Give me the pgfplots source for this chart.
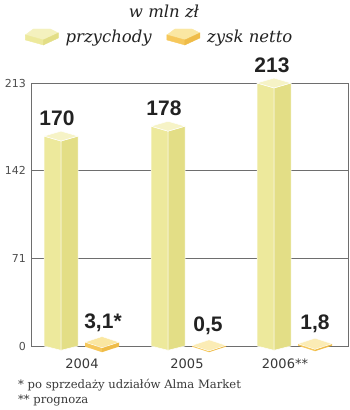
\documentclass[border=0pt]{standalone}
\usepackage{pgfplots}
\pgfplotsset{compat=1.18}
\usepackage{fontspec}
\setmainfont{DejaVu Serif}
\newfontfamily\numfont{Liberation Sans}
\newfontfamily\tickfont{DejaVu Sans}
\definecolor{barL}{HTML}{EDE99C}
\definecolor{barR}{HTML}{E3DE86}
\definecolor{barT}{HTML}{F6F3C6}
\definecolor{boxT}{HTML}{FAE7A2}
\definecolor{boxL}{HTML}{F6C85C}
\definecolor{boxR}{HTML}{EFBC48}
\definecolor{gridc}{HTML}{6E6E6E}
\definecolor{txt}{HTML}{222222}
\begin{document}
\begin{tikzpicture}[x=1pt,y=1pt]
\useasboundingbox (0,0) rectangle (350,410);
\begin{axis}[
  at={(31pt,64pt)}, anchor=south west,
  scale only axis, width=317pt, height=263pt,
  xmin=0, xmax=317, ymin=0, ymax=213,
  clip=false,
  axis line style={draw=gridc, line width=0.8pt},
  ymajorgrids, grid style={draw=gridc, line width=0.8pt},
  major tick length=0pt,
  ytick={0,71,142,213},
  xtick={51,156,254},
  xticklabels={2004,2005,2006**},
  /pgf/number format/assume math mode=true,
  yticklabel style={font=\tickfont\fontsize{11}{12}\selectfont, text=txt!80, anchor=east, inner sep=0pt, xshift=-5pt},
  xticklabel style={font=\tickfont\fontsize{13}{14}\selectfont, text=txt!90, anchor=base, inner sep=0pt, yshift=-22pt},
  legend style={at={(-0.019,1.207)}, anchor=north west, draw=none, fill=none, inner sep=0pt,
    font=\fontsize{16.5}{18}\selectfont\itshape, text=txt,
    nodes={inner sep=0pt}, cells={anchor=west},
    /tikz/every odd column/.append style={column sep=7pt},
    /tikz/every even column/.append style={column sep=15pt}},
  legend columns=2,
]
% legend images
\addlegendimage{legend image code/.code={
  \fill[barT!80!barL] (0pt,2pt) -- (8pt,8pt) -- (25pt,8pt) -- (33pt,4pt) -- (18pt,-3pt) -- cycle;
  \fill[barL] (0pt,2pt) -- (18pt,-3pt) -- (18pt,-8pt) -- (0pt,-3pt) -- cycle;
  \fill[barR] (18pt,-3pt) -- (33pt,4pt) -- (33pt,-1pt) -- (18pt,-8pt) -- cycle;
}}
\addlegendentry{przychody}
\addlegendimage{legend image code/.code={
  \fill[boxT] (0pt,2pt) -- (8pt,8pt) -- (25pt,8pt) -- (33pt,4pt) -- (18pt,-3pt) -- cycle;
  \fill[boxL] (0pt,2pt) -- (18pt,-3pt) -- (18pt,-8pt) -- (0pt,-3pt) -- cycle;
  \fill[boxR] (18pt,-3pt) -- (33pt,4pt) -- (33pt,-1pt) -- (18pt,-8pt) -- cycle;
}}
\addlegendentry{zysk netto}
% przychody 2004: 170
\addplot[fill=barL, draw=white, line width=0.5pt, forget plot] coordinates {(13,0) (30,-3.5) (30,166) (13,170)} -- cycle;
\addplot[fill=barR, draw=white, line width=0.5pt, forget plot] coordinates {(30,-3.5) (47,0) (47,170) (30,166)} -- cycle;
\addplot[fill=barT, draw=white, line width=0.5pt, forget plot] coordinates {(13,170) (30,174) (47,170) (30,166)} -- cycle;
% przychody 2005: 178
\addplot[fill=barL, draw=white, line width=0.5pt, forget plot] coordinates {(120,0) (137,-3.5) (137,174) (120,178)} -- cycle;
\addplot[fill=barR, draw=white, line width=0.5pt, forget plot] coordinates {(137,-3.5) (154,0) (154,178) (137,174)} -- cycle;
\addplot[fill=barT, draw=white, line width=0.5pt, forget plot] coordinates {(120,178) (137,182) (154,178) (137,174)} -- cycle;
% przychody 2006: 213
\addplot[fill=barL, draw=white, line width=0.5pt, forget plot] coordinates {(226,0) (243,-3.5) (243,209) (226,213)} -- cycle;
\addplot[fill=barR, draw=white, line width=0.5pt, forget plot] coordinates {(243,-3.5) (260,0) (260,213) (243,209)} -- cycle;
\addplot[fill=barT, draw=white, line width=0.5pt, forget plot] coordinates {(226,213) (243,217) (260,213) (243,209)} -- cycle;
% zysk netto 2004: 3.1
\addplot[fill=boxL, draw=none, forget plot] coordinates {(54,3.1) (71,-1.4) (71,-5) (54,-0.5)} -- cycle;
\addplot[fill=boxR, draw=none, forget plot] coordinates {(71,-1.4) (88,3.1) (88,-0.5) (71,-5)} -- cycle;
\addplot[fill=boxT, draw=white, line width=0.4pt, forget plot] coordinates {(54,3.1) (71,7.6) (88,3.1) (71,-1.4)} -- cycle;
% zysk netto 2005: 0.5
\addplot[fill=boxL, draw=none, forget plot] coordinates {(161,0.5) (178,-4) (178,-5) (161,-0.5)} -- cycle;
\addplot[fill=boxR, draw=none, forget plot] coordinates {(178,-4) (195,0.5) (195,-0.5) (178,-5)} -- cycle;
\addplot[fill=boxT!80!white, draw=white, line width=0.4pt, forget plot] coordinates {(161,0.5) (178,5) (195,0.5) (178,-4)} -- cycle;
% zysk netto 2006: 1.8
\addplot[fill=boxL, draw=none, forget plot] coordinates {(267,1.8) (284,-2.7) (284,-4.2) (267,0.3)} -- cycle;
\addplot[fill=boxR, draw=none, forget plot] coordinates {(284,-2.7) (301,1.8) (301,0.3) (284,-4.2)} -- cycle;
\addplot[fill=boxT!80!white, draw=white, line width=0.4pt, forget plot] coordinates {(267,1.8) (284,6.3) (301,1.8) (284,-2.7)} -- cycle;
% value labels
\addplot[draw=none, mark=none, forget plot, point meta=explicit symbolic, nodes near coords,
  nodes near coords style={anchor=base, yshift=11pt, font=\numfont\bfseries\fontsize{21}{22}\selectfont, text=txt}]
  coordinates {(26,170)[170] (133,178)[178] (241,213)[213]};
\addplot[draw=none, mark=none, forget plot, point meta=explicit symbolic, nodes near coords,
  nodes near coords style={anchor=base, yshift=14pt, font=\numfont\bfseries\fontsize{21}{22}\selectfont, text=txt}]
  coordinates {(72,3.1)[3,1*] (177,0.5)[0,5] (284,1.8)[1,8]};
\end{axis}
\node[anchor=base, font=\fontsize{16.5}{18}\selectfont\itshape, text=txt] at (164,392) {w mln zł};
\node[anchor=base west, inner sep=0pt, font=\fontsize{11.6}{12}\selectfont, text=txt!90] at (18,21) {* po sprzedaży udziałów Alma Market};
\node[anchor=base west, inner sep=0pt, font=\fontsize{11.6}{12}\selectfont, text=txt!90] at (18,6) {** prognoza};
\end{tikzpicture}
\end{document}
